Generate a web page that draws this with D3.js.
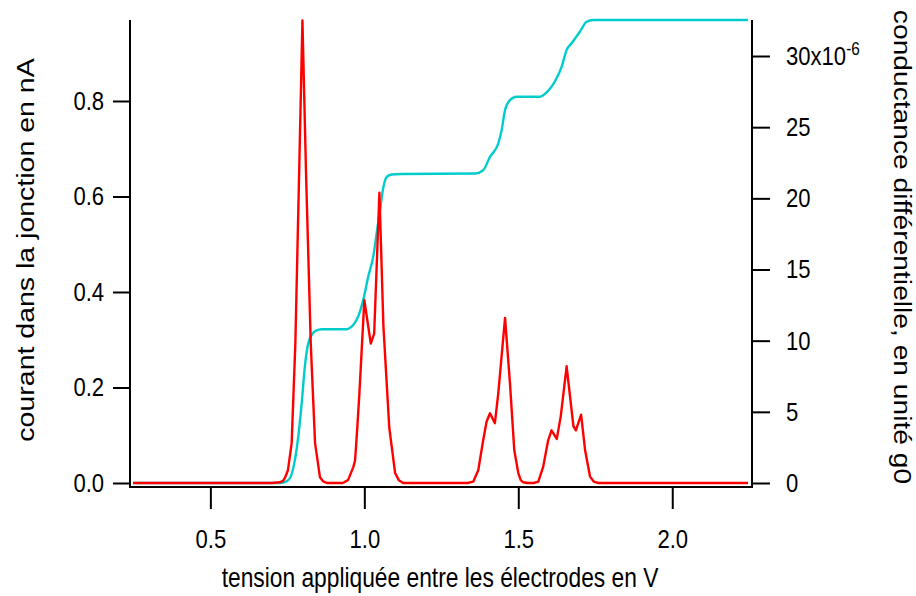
<!DOCTYPE html>
<html>
<head>
<meta charset="utf-8">
<script src="https://cdn.jsdelivr.net/npm/d3@7"></script>
<style>
  body { margin: 0; background: #fff; }
  svg text { font-family: "Liberation Sans", Arial, sans-serif; fill: #000; }
</style>
</head>
<body>
<svg id="chart" width="916" height="596"></svg>
<script>
// tension (V) / conductance (x10^-6 g0), red curve, right axis
var voltsCond = [0.249, 0.700, 0.725, 0.736, 0.743, 0.752, 0.764, 0.776, 0.788, 0.799, 0.811, 0.826, 0.840, 0.856, 0.866, 0.879,
  0.930, 0.947, 0.964, 0.970, 0.976, 0.984, 1.000, 1.021, 1.032, 1.049, 1.062, 1.081, 1.100, 1.112, 1.126,
  1.335, 1.354, 1.370, 1.386, 1.397, 1.408, 1.424, 1.435, 1.457, 1.473, 1.487, 1.500, 1.508, 1.516, 1.530,
  1.550, 1.565, 1.581, 1.597, 1.608, 1.625, 1.638, 1.657, 1.679, 1.687, 1.704, 1.717, 1.733, 1.745, 1.760, 2.246];
var conductance = [0, 0, 0.05, 0.15, 0.4, 0.9, 2.8, 9.8, 21.5, 32.5, 21.5, 9.8, 2.8, 0.4, 0.12, 0,
  0, 0.2, 1.1, 1.6, 3.5, 6.3, 12.85, 9.8, 10.5, 20.4, 11.0, 3.9, 0.7, 0.2, 0,
  0, 0.1, 0.9, 3.0, 4.3, 4.9, 4.2, 6.3, 11.6, 7.0, 2.3, 0.7, 0.2, 0.05, 0,
  0, 0.1, 1.15, 3.0, 3.7, 3.1, 4.7, 8.2, 4.0, 3.7, 4.8, 2.3, 0.45, 0.1, 0, 0];

// tension (V) / courant (nA), cyan curve, left axis
var voltsCourant = [0.249, 0.720, 0.736, 0.749, 0.762, 0.775, 0.786, 0.797, 0.807, 0.817, 0.829, 0.843, 0.862, 0.943,
  0.948, 0.964, 0.981, 0.997, 1.013, 1.029, 1.040, 1.051, 1.062, 1.073, 1.089, 1.120, 1.359,
  1.386, 1.408, 1.435, 1.446, 1.457, 1.473, 1.495, 1.570, 1.592, 1.624, 1.641, 1.657, 1.673, 1.700, 1.722, 1.743, 2.246];
var courant = [0, 0, 0.001, 0.004, 0.015, 0.05, 0.10, 0.17, 0.245, 0.29, 0.31, 0.319, 0.322, 0.322,
  0.323, 0.331, 0.35, 0.385, 0.433, 0.474, 0.523, 0.572, 0.620, 0.641, 0.646, 0.647, 0.648,
  0.655, 0.683, 0.711, 0.739, 0.781, 0.802, 0.809, 0.809, 0.818, 0.847, 0.872, 0.907, 0.921, 0.945, 0.966, 0.9696, 0.9696];

var xTicks = [0.5, 1.0, 1.5, 2.0];
var leftTicks = [0, 0.2, 0.4, 0.6, 0.8];
var rightTicks = [0, 5, 10, 15, 20, 25, 30];

var svg = d3.select("#chart");
var squish = "scale(0.85,1)";

var x = d3.scaleLinear().domain([0.239, 2.259]).range([130, 752]);
var yLeft = d3.scaleLinear().domain([0, 0.9696]).range([483, 20]);
var yRight = d3.scaleLinear().domain([0, 32.53]).range([483, 20]);

// cyan then red
var lineCourant = d3.line()
  .x(d => x(d[0]))
  .y(d => yLeft(d[1]))
  .curve(d3.curveMonotoneX);
svg.append("path")
  .datum(d3.zip(voltsCourant, courant))
  .attr("d", lineCourant)
  .attr("fill", "none")
  .attr("stroke", "#00cccc")
  .attr("stroke-width", 2.4);

var lineCond = d3.line()
  .x(d => x(d[0]))
  .y(d => yRight(d[1]));
svg.append("path")
  .datum(d3.zip(voltsCond, conductance))
  .attr("d", lineCond)
  .attr("fill", "none")
  .attr("stroke", "#ff0000")
  .attr("stroke-width", 2.4)
  .attr("stroke-linejoin", "round");

// frame
svg.append("line").attr("x1", 130).attr("x2", 130).attr("y1", 20).attr("y2", 488)
  .attr("stroke", "#000").attr("stroke-width", 2);
svg.append("line").attr("x1", 752).attr("x2", 752).attr("y1", 20).attr("y2", 488)
  .attr("stroke", "#000").attr("stroke-width", 2);
svg.append("line").attr("x1", 129).attr("x2", 753).attr("y1", 487).attr("y2", 487)
  .attr("stroke", "#000").attr("stroke-width", 2);

// bottom axis
var gx = svg.append("g")
  .attr("transform", "translate(0,487)")
  .call(d3.axisBottom(x).tickValues(xTicks).tickSize(22).tickFormat(d3.format(".1f")));
gx.select(".domain").remove();
gx.selectAll("line").attr("stroke", "#000").attr("stroke-width", 2);
gx.selectAll("text")
  .attr("font-size", 26)
  .attr("y", 43)
  .attr("transform", squish);

// left axis
var gl = svg.append("g")
  .attr("transform", "translate(130,0)")
  .call(d3.axisLeft(yLeft).tickValues(leftTicks).tickSize(17).tickFormat(d3.format(".1f")));
gl.select(".domain").remove();
gl.selectAll("line").attr("stroke", "#000").attr("stroke-width", 2);
gl.selectAll("text")
  .attr("font-size", 26)
  .attr("x", -30.5)
  .attr("transform", squish);

// right axis
var gr = svg.append("g")
  .attr("transform", "translate(752,0)")
  .call(d3.axisRight(yRight).tickValues(rightTicks).tickSize(18).tickFormat(d3.format("d")));
gr.select(".domain").remove();
gr.selectAll("line").attr("stroke", "#000").attr("stroke-width", 2);
gr.selectAll("text")
  .attr("font-size", 26)
  .attr("x", 40)
  .attr("transform", squish);
gr.selectAll("text").filter(d => d === 30)
  .text("30x10")
  .append("tspan")
  .attr("dy", "-0.55em")
  .attr("font-size", 18)
  .text("-6");

// titles
svg.append("text")
  .attr("transform", "translate(440,587) " + squish)
  .attr("text-anchor", "middle")
  .attr("font-size", 26.8)
  .text("tension appliquée entre les électrodes en V");

svg.append("text")
  .attr("transform", "translate(34,250) " + squish + " rotate(-90)")
  .attr("text-anchor", "middle")
  .attr("font-size", 28.5)
  .text("courant dans la jonction en nA");

svg.append("text")
  .attr("transform", "translate(894,247) " + squish + " rotate(90)")
  .attr("text-anchor", "middle")
  .attr("font-size", 28.2)
  .text("conductance différentielle, en unité g0");
</script>
</body>
</html>
